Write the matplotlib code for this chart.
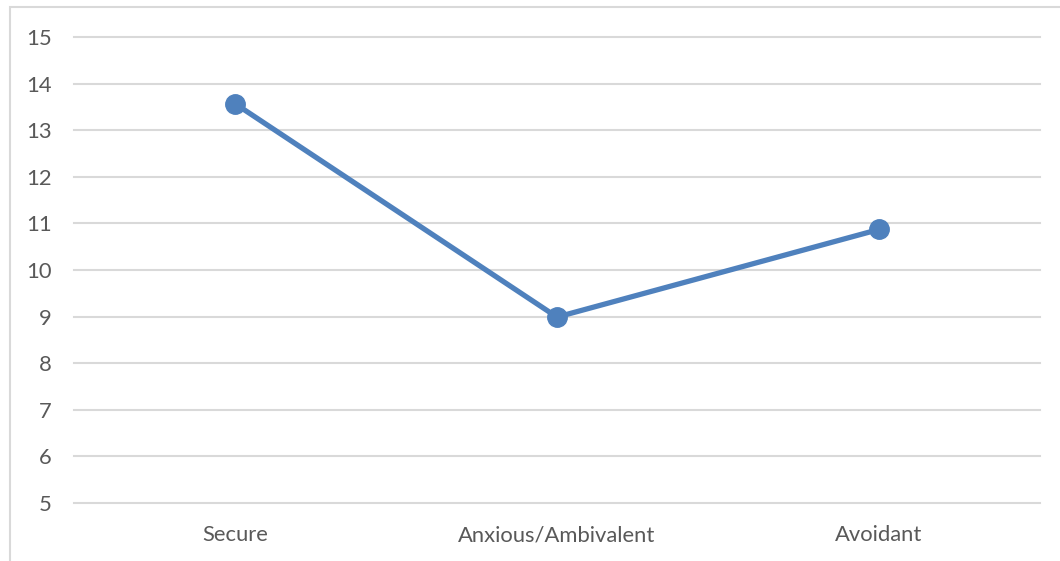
import matplotlib.pyplot as plt
from matplotlib.patches import Rectangle

# attachment style scores
categories = ['Secure', 'Anxious/Ambivalent', 'Avoidant']
scores = [13.57, 8.99, 10.87]
y_ticks = [5, 6, 7, 8, 9, 10, 11, 12, 13, 14, 15]

blue = '#4F81BD'
grid_col = '#D9D9D9'
text_col = '#595959'

plt.rcParams['font.family'] = ['Lato', 'DejaVu Sans']

fig = plt.figure(figsize=(10.6, 5.61), dpi=100)
ax = fig.add_axes([74 / 1060, 58 / 561, 966 / 1060, 466 / 561])

# outer chart border, like the excel chart area
fig.patches.append(Rectangle((10 / 1060, -0.1), 1.2, (561 - 7) / 561 + 0.1,
                             transform=fig.transFigure, fill=False,
                             edgecolor=grid_col, linewidth=1.5))

x = range(len(categories))
ax.plot(x, scores, color=blue, linewidth=3.8, marker='o', markersize=14,
        solid_capstyle='round', zorder=3)

ax.set_xlim(-0.5, len(categories) - 0.5)
ax.set_ylim(5, 15)
ax.set_yticks(y_ticks)
ax.set_xticks(list(x))
ax.set_xticklabels(categories)
# gridlines drawn by hand so the top/bottom ones are not clipped
for yv in y_ticks:
    ax.axhline(yv, color=grid_col, linewidth=1.5, clip_on=False, zorder=1)
for s in ax.spines.values():
    s.set_visible(False)
ax.tick_params(axis='both', length=0, labelsize=15.8, colors=text_col)
ax.tick_params(axis='y', pad=16)
ax.tick_params(axis='x', pad=16)

fig.savefig('out.png', dpi=100)
